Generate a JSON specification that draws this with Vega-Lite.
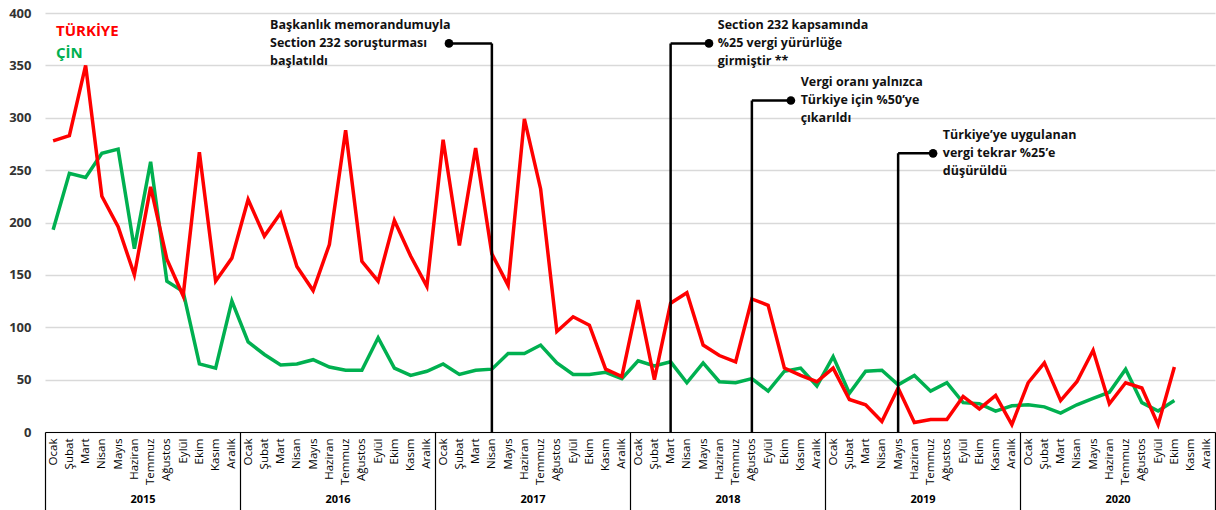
{
  "$schema": "https://vega.github.io/schema/vega-lite/v6.json",
  "width": 1170,
  "height": 419,
  "autosize": {"type": "none"},
  "padding": {"left": 45, "top": 13, "right": 1, "bottom": 78},
  "config": {
    "view": {"stroke": null},
    "font": "Open Sans"
  },
  "datasets": {
    "monthly": [
      {"idx": 0, "TÜRKİYE": 278, "ÇİN": 193},
      {"idx": 1, "TÜRKİYE": 283, "ÇİN": 247},
      {"idx": 2, "TÜRKİYE": 350, "ÇİN": 243},
      {"idx": 3, "TÜRKİYE": 225, "ÇİN": 266},
      {"idx": 4, "TÜRKİYE": 196, "ÇİN": 270},
      {"idx": 5, "TÜRKİYE": 150, "ÇİN": 175},
      {"idx": 6, "TÜRKİYE": 234, "ÇİN": 258},
      {"idx": 7, "TÜRKİYE": 165, "ÇİN": 144},
      {"idx": 8, "TÜRKİYE": 130, "ÇİN": 134},
      {"idx": 9, "TÜRKİYE": 267, "ÇİN": 65},
      {"idx": 10, "TÜRKİYE": 144, "ÇİN": 61},
      {"idx": 11, "TÜRKİYE": 166, "ÇİN": 125},
      {"idx": 12, "TÜRKİYE": 222, "ÇİN": 86},
      {"idx": 13, "TÜRKİYE": 187, "ÇİN": 74},
      {"idx": 14, "TÜRKİYE": 209, "ÇİN": 64},
      {"idx": 15, "TÜRKİYE": 158, "ÇİN": 65},
      {"idx": 16, "TÜRKİYE": 135, "ÇİN": 69},
      {"idx": 17, "TÜRKİYE": 179, "ÇİN": 62},
      {"idx": 18, "TÜRKİYE": 288, "ÇİN": 59},
      {"idx": 19, "TÜRKİYE": 163, "ÇİN": 59},
      {"idx": 20, "TÜRKİYE": 144, "ÇİN": 90},
      {"idx": 21, "TÜRKİYE": 202, "ÇİN": 61},
      {"idx": 22, "TÜRKİYE": 168, "ÇİN": 54},
      {"idx": 23, "TÜRKİYE": 139, "ÇİN": 58},
      {"idx": 24, "TÜRKİYE": 279, "ÇİN": 65},
      {"idx": 25, "TÜRKİYE": 178, "ÇİN": 55},
      {"idx": 26, "TÜRKİYE": 271, "ÇİN": 59},
      {"idx": 27, "TÜRKİYE": 170, "ÇİN": 60},
      {"idx": 28, "TÜRKİYE": 140, "ÇİN": 75},
      {"idx": 29, "TÜRKİYE": 299, "ÇİN": 75},
      {"idx": 30, "TÜRKİYE": 232, "ÇİN": 83},
      {"idx": 31, "TÜRKİYE": 96, "ÇİN": 66},
      {"idx": 32, "TÜRKİYE": 110, "ÇİN": 55},
      {"idx": 33, "TÜRKİYE": 102, "ÇİN": 55},
      {"idx": 34, "TÜRKİYE": 60, "ÇİN": 57},
      {"idx": 35, "TÜRKİYE": 53, "ÇİN": 51},
      {"idx": 36, "TÜRKİYE": 126, "ÇİN": 68},
      {"idx": 37, "TÜRKİYE": 50, "ÇİN": 63},
      {"idx": 38, "TÜRKİYE": 123, "ÇİN": 67},
      {"idx": 39, "TÜRKİYE": 133, "ÇİN": 47},
      {"idx": 40, "TÜRKİYE": 83, "ÇİN": 66},
      {"idx": 41, "TÜRKİYE": 73, "ÇİN": 48},
      {"idx": 42, "TÜRKİYE": 67, "ÇİN": 47},
      {"idx": 43, "TÜRKİYE": 127, "ÇİN": 51},
      {"idx": 44, "TÜRKİYE": 121, "ÇİN": 39},
      {"idx": 45, "TÜRKİYE": 61, "ÇİN": 58},
      {"idx": 46, "TÜRKİYE": 54, "ÇİN": 61},
      {"idx": 47, "TÜRKİYE": 48, "ÇİN": 44},
      {"idx": 48, "TÜRKİYE": 61, "ÇİN": 72},
      {"idx": 49, "TÜRKİYE": 31, "ÇİN": 37},
      {"idx": 50, "TÜRKİYE": 26, "ÇİN": 58},
      {"idx": 51, "TÜRKİYE": 10, "ÇİN": 59},
      {"idx": 52, "TÜRKİYE": 42, "ÇİN": 45},
      {"idx": 53, "TÜRKİYE": 9, "ÇİN": 54},
      {"idx": 54, "TÜRKİYE": 12, "ÇİN": 39},
      {"idx": 55, "TÜRKİYE": 12, "ÇİN": 47},
      {"idx": 56, "TÜRKİYE": 34, "ÇİN": 28},
      {"idx": 57, "TÜRKİYE": 22, "ÇİN": 27},
      {"idx": 58, "TÜRKİYE": 35, "ÇİN": 20},
      {"idx": 59, "TÜRKİYE": 7, "ÇİN": 25},
      {"idx": 60, "TÜRKİYE": 47, "ÇİN": 26},
      {"idx": 61, "TÜRKİYE": 66, "ÇİN": 24},
      {"idx": 62, "TÜRKİYE": 30, "ÇİN": 18},
      {"idx": 63, "TÜRKİYE": 48, "ÇİN": 26},
      {"idx": 64, "TÜRKİYE": 78, "ÇİN": 32},
      {"idx": 65, "TÜRKİYE": 27, "ÇİN": 38},
      {"idx": 66, "TÜRKİYE": 47, "ÇİN": 60},
      {"idx": 67, "TÜRKİYE": 42, "ÇİN": 28},
      {"idx": 68, "TÜRKİYE": 7, "ÇİN": 20},
      {"idx": 69, "TÜRKİYE": 62, "ÇİN": 30}
    ],
    "events": [
      {"event": 27, "base": 0, "dotX": 24.36, "dotY": 371, "textX": 13.35, "label": ["Başkanlık memorandumuyla", "Section 232 soruşturması", "başlatıldı"]},
      {"event": 38, "base": 0, "dotX": 40.36, "dotY": 371, "textX": 40.9, "label": ["Section 232 kapsamında", "%25 vergi yürürlüğe", "girmiştir **"]},
      {"event": 43, "base": 0, "dotX": 45.4, "dotY": 316.5, "textX": 46.0, "label": ["Vergi oranı yalnızca", "Türkiye için %50’ye", "çıkarıldı"]},
      {"event": 52, "base": 0, "dotX": 54.15, "dotY": 266, "textX": 54.75, "label": ["Türkiye’ye uygulanan", "vergi tekrar %25’e", "düşürüldü"]}
    ],
    "years": [
      {"year": "2015"}, {"year": "2016"}, {"year": "2017"},
      {"year": "2018"}, {"year": "2019"}, {"year": "2020"}
    ]
  },
  "layer": [
    {
      "data": {"name": "monthly"},
      "transform": [{"fold": ["ÇİN", "TÜRKİYE"], "as": ["series", "value"]}],
      "mark": {"type": "line", "strokeWidth": 3.5},
      "encoding": {
        "x": {
          "field": "idx",
          "type": "quantitative",
          "scale": {"domain": [-0.5, 71.5], "nice": false, "zero": false},
          "axis": {
            "title": null,
            "values": [0,1,2,3,4,5,6,7,8,9,10,11,12,13,14,15,16,17,18,19,20,21,22,23,24,25,26,27,28,29,30,31,32,33,34,35,36,37,38,39,40,41,42,43,44,45,46,47,48,49,50,51,52,53,54,55,56,57,58,59,60,61,62,63,64,65,66,67,68,69,70,71],
            "labelExpr": "['Ocak','Şubat','Mart','Nisan','Mayıs','Haziran','Temmuz','Ağustos','Eylül','Ekim','Kasım','Aralık'][datum.value % 12]",
            "labelAngle": -90,
            "labelFontSize": 11.5,
            "labelColor": "#000000",
            "labelPadding": 6,
            "labelFlush": false,
            "labelOverlap": false,
            "labelBound": false,
            "ticks": false,
            "grid": false,
            "domain": true,
            "domainColor": "#000000",
            "domainWidth": 1.2
          }
        },
        "y": {
          "field": "value",
          "type": "quantitative",
          "scale": {"domain": [0, 400], "nice": false},
          "axis": {
            "title": null,
            "values": [0, 50, 100, 150, 200, 250, 300, 350, 400],
            "grid": true,
            "gridColor": "#d9d9d9",
            "gridWidth": 1.5,
            "domain": false,
            "ticks": false,
            "labelFontSize": 13,
            "labelFontWeight": "bold",
            "labelColor": "#333333",
            "labelPadding": 14
          }
        },
        "color": {
          "field": "series",
          "type": "nominal",
          "scale": {"domain": ["TÜRKİYE", "ÇİN"], "range": ["#ff0000", "#00b050"]},
          "legend": {
            "title": null,
            "orient": "none",
            "legendX": -4,
            "legendY": 10,
            "labelFontSize": 15,
            "labelFontWeight": "bold",
            "symbolOpacity": 0,
            "symbolSize": 0,
            "symbolStrokeWidth": 0,
            "labelOffset": 0,
            "rowPadding": 6,
            "encode": {"labels": {"update": {"fill": {"scale": "color", "field": "value"}}}}
          }
        }
      }
    },
    {
      "data": {"name": "events"},
      "mark": {"type": "rule", "color": "#000000", "strokeWidth": 2.5},
      "encoding": {
        "x": {"field": "event", "type": "quantitative", "scale": {"domain": [-0.5, 71.5], "nice": false, "zero": false}, "axis": null},
        "y": {"field": "dotY", "type": "quantitative"},
        "y2": {"field": "base"}
      }
    },
    {
      "data": {"name": "events"},
      "mark": {"type": "rule", "color": "#000000", "strokeWidth": 2.5},
      "encoding": {
        "x": {"field": "event", "type": "quantitative", "scale": {"domain": [-0.5, 71.5], "nice": false, "zero": false}, "axis": null},
        "x2": {"field": "dotX"},
        "y": {"field": "dotY", "type": "quantitative"}
      }
    },
    {
      "data": {"name": "events"},
      "mark": {"type": "point", "filled": true, "color": "#000000", "opacity": 1, "size": 75},
      "encoding": {
        "x": {"field": "dotX", "type": "quantitative", "scale": {"domain": [-0.5, 71.5], "nice": false, "zero": false}, "axis": null},
        "y": {"field": "dotY", "type": "quantitative"}
      }
    },
    {
      "data": {"name": "events"},
      "mark": {"type": "text", "align": "left", "baseline": "middle", "dy": -18, "fontSize": 12.5, "fontWeight": "bold", "lineHeight": 18, "color": "#111111"},
      "encoding": {
        "x": {"field": "textX", "type": "quantitative", "scale": {"domain": [-0.5, 71.5], "nice": false, "zero": false}, "axis": null},
        "y": {"field": "dotY", "type": "quantitative"},
        "text": {"field": "label", "type": "nominal"}
      }
    },
    {
      "data": {"name": "years"},
      "mark": {"type": "tick", "opacity": 0},
      "encoding": {
        "x": {
          "field": "year",
          "type": "ordinal",
          "scale": {"paddingInner": 0, "paddingOuter": 0},
          "axis": {
            "title": null,
            "orient": "bottom",
            "tickBand": "extent",
            "tickSize": 78,
            "tickColor": "#000000",
            "tickWidth": 1.2,
            "domain": false,
            "grid": false,
            "labelAngle": 0,
            "labelPadding": -17,
            "labelFontSize": 11,
            "labelFontWeight": "bold",
            "labelColor": "#000000"
          }
        }
      }
    }
  ],
  "resolve": {"scale": {"x": "independent"}, "axis": {"x": "independent"}}
}
